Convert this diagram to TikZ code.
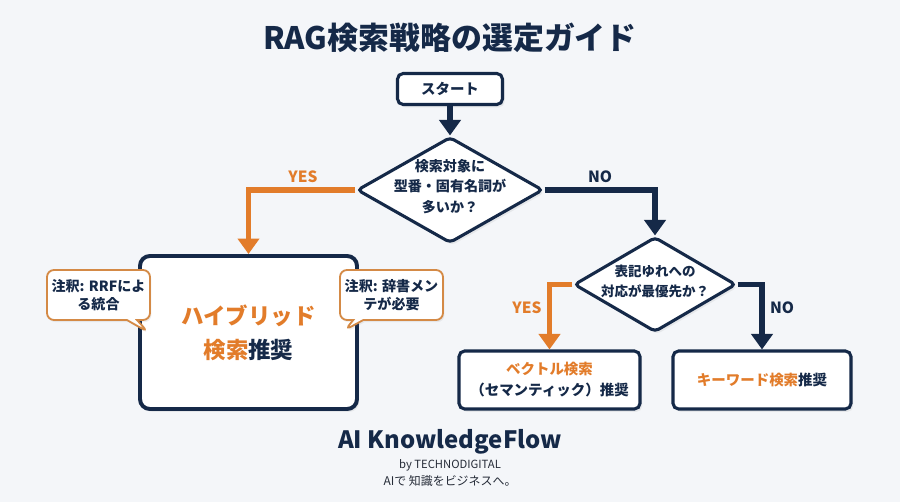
\documentclass[tikz,border=0pt]{standalone}
\usepackage{fontspec}
\setmainfont{Noto Sans CJK JP}
\usetikzlibrary{arrows.meta,shapes.geometric,shapes.callouts,shadows}
\definecolor{RagNavy}{RGB}{21,41,72}
\definecolor{RagOrange}{RGB}{226,124,42}
\definecolor{RagNoteLine}{RGB}{212,138,70}
\definecolor{RagBg}{RGB}{244,246,249}
\definecolor{RagText}{RGB}{38,44,56}
\newcommand{\ragdtext}[1]{\raisebox{-2pt}{\makebox[0pt]{\smash{\begin{tabular}{@{}c@{}}#1\end{tabular}}}}}
\tikzset{
  rag/box/.style={
    draw=RagNavy,
    line width=2.2pt,
    rounded corners=4pt,
    fill=white,
    align=center,
    text=RagNavy,
    font=\bfseries\fontsize{10.3}{15}\selectfont,
    drop shadow={opacity=0.12, shadow xshift=1.5pt, shadow yshift=-2pt}
  },
  rag/bigbox/.style={
    rag/box,
    line width=2.8pt,
    rounded corners=7pt,
    font=\bfseries\fontsize{16}{24}\selectfont
  },
  rag/decision/.style={
    diamond,
    draw=RagNavy,
    line width=2.2pt,
    rounded corners=3pt,
    fill=white,
    text=RagNavy,
    inner sep=0pt,
    font=\bfseries\fontsize{10}{14.5}\selectfont,
    drop shadow={opacity=0.12, shadow xshift=1.5pt, shadow yshift=-2pt}
  },
  rag/note/.style={
    rectangle callout,
    draw=RagNoteLine,
    line width=1.3pt,
    rounded corners=5pt,
    fill=white,
    align=center,
    text=RagNavy,
    minimum width=2.575cm,
    minimum height=1.25cm,
    inner sep=2pt,
    font=\bfseries\fontsize{10}{13}\selectfont,
    drop shadow={opacity=0.12, shadow xshift=1pt, shadow yshift=-1.5pt}
  },
  rag/yes/.style={-{Triangle[length=11pt,width=15pt]}, line width=3.6pt, draw=RagOrange},
  rag/no/.style={-{Triangle[length=11pt,width=15pt]}, line width=3.6pt, draw=RagNavy},
  rag/yeslabel/.style={font=\bfseries\fontsize{11}{13}\selectfont, text=RagOrange},
  rag/nolabel/.style={font=\bfseries\fontsize{11}{13}\selectfont, text=RagNavy}
}

\begin{document}
\begin{tikzpicture}[x=1cm,y=1cm]
  \useasboundingbox (0,0) rectangle (22.5,12.55);
  \fill[RagBg] (0,0) rectangle (22.5,12.55);

  \node[font=\bfseries\fontsize{22}{26}\selectfont,text=RagNavy] (title) at (11.25,11.6) {RAG検索戦略の選定ガイド};

  \node[rag/box,minimum width=2.625cm,minimum height=0.775cm] (start) at (11.25,10.325) {スタート};
  \node[rag/decision,minimum width=4.65cm,minimum height=2.65cm] (q1) at (11.25,7.8)
    {\ragdtext{検索対象に\\型番・固有名詞が\\多いか？}};
  \node[rag/decision,minimum width=4.05cm,minimum height=2.375cm,font=\bfseries\fontsize{9.6}{14.5}\selectfont] (q2) at (16.375,5.4375)
    {\ragdtext{表記ゆれへの\\対応が最優先か？}};

  \node[rag/bigbox,minimum width=5.425cm,minimum height=3.825cm] (hybrid) at (6.2125,4.2375)
    {{\color{RagOrange}ハイブリッド}\\{\color{RagOrange}検索}推奨};
  \node[rag/box,minimum width=4.525cm,minimum height=1.45cm] (vector) at (13.7375,3.05)
    {{\color{RagOrange}ベクトル検索}\\（セマンティック）推奨};
  \node[rag/box,minimum width=4.45cm,minimum height=1.45cm] (keyword) at (19.05,3.05)
    {{\color{RagOrange}キーワード検索}推奨};

  \node[rag/note,callout absolute pointer={(3.7,4.25)}] (noteL) at (2.4625,5.175) {注釈: RRFによ\\る統合};
  \node[rag/note,callout absolute pointer={(8.625,4.3)}] (noteR) at (9.7875,5.175) {注釈: 辞書メン\\テが必要};

  \draw[rag/no] (start) -- (q1);
  \draw[rag/yes] (q1.west) -| (hybrid.north);
  \draw[rag/no] (q1.east) -| (q2.north);
  \draw[rag/yes] (q2.west) -| (vector.north);
  \draw[rag/no] (q2.east) -| (keyword.north);

  \node[rag/yeslabel] (yes1) at (7.575,8.125) {YES};
  \node[rag/nolabel] (no1) at (15,8.125) {NO};
  \node[rag/yeslabel] (yes2) at (13.175,4.85) {YES};
  \node[rag/nolabel] (no2) at (19.55,4.85) {NO};

  \node[font=\bfseries\fontsize{17}{20}\selectfont,text=RagNavy] (brand) at (11.25,1.5) {AI KnowledgeFlow};
  \node[font=\fontsize{8}{10}\selectfont,text=RagText] (maker) at (11.25,0.925) {by TECHNODIGITAL};
  \node[font=\fontsize{8.5}{10}\selectfont,text=RagText] (tagline) at (11.25,0.525) {AIで 知識をビジネスへ。};
\end{tikzpicture}
\end{document}
